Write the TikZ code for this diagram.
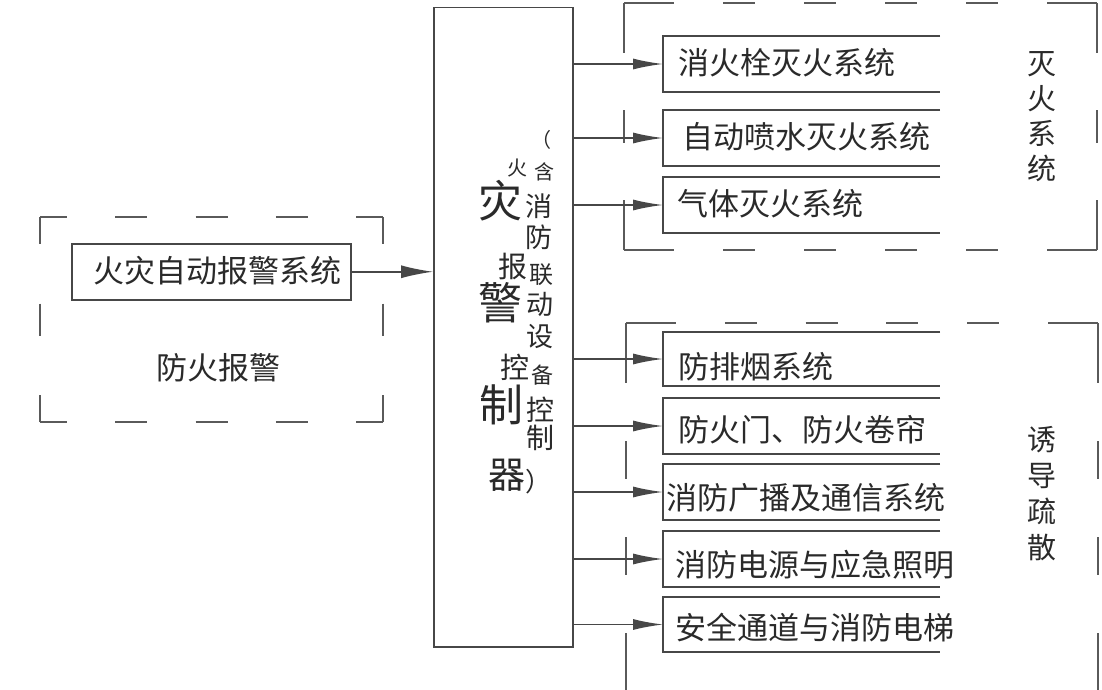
\documentclass[tikz,border=0pt]{standalone}
\usepackage{fontspec}
\newfontfamily\cjk{Noto Sans CJK SC}
\usetikzlibrary{arrows.meta,calc}
\definecolor{lncol}{HTML}{474747}
\definecolor{frcol}{HTML}{5A5A5A}
\definecolor{txtcol}{HTML}{2A2A2A}
% dashed side with solid corner pieces: x1 y1 x2 y2 corner dash gap
\newcommand\dashside[7]{%
  \pgfmathsetmacro\dsL{veclen((#3)-(#1),(#4)-(#2))}%
  \pgfmathsetmacro\dsM{\dsL-2*(#5)}%
  \pgfmathtruncatemacro\dsN{max(0,round((\dsM-(#7))/((#6)+(#7))))}%
  \pgfmathsetlengthmacro\dsG{(\dsM-\dsN*(#6))/(\dsN+1)}%
  \draw[frame] (#1,#2) -- ($(#1,#2)!#5pt!(#3,#4)$);
  \draw[frame] (#3,#4) -- ($(#3,#4)!#5pt!(#1,#2)$);
  \ifnum\dsN>0
    \draw[frame,dash pattern=on #6pt off \dsG,dash phase=#6pt]
      ($(#1,#2)!#5pt!(#3,#4)$) -- ($(#3,#4)!#5pt!(#1,#2)$);
  \fi}
\begin{document}
\begin{tikzpicture}[x=1pt,y=-1pt,
  frame/.style={draw=frcol,line width=1.5pt,line cap=square},
  ln/.style={draw=lncol,line width=1.5pt},
  conn/.style={draw=lncol,line width=1.5pt,-{Latex[length=30pt,width=11pt]}},
  sysbox/.style={inner sep=0pt,outer sep=0pt,minimum width=277pt,anchor=north west},
  txt/.style={font=\cjk\fontsize{31}{36}\selectfont,text=txtcol,inner sep=0pt,anchor=west},
  side/.style={font=\cjk\fontsize{29}{35}\selectfont,text=txtcol,inner sep=0pt,align=center},
  cc/.style={font=\cjk\fontsize{#1}{#1}\selectfont,text=txtcol,inner sep=0pt}
]
\useasboundingbox (0,0) rectangle (1102,690);
\fill[white] (0,0) rectangle (1102,690);
\clip (0,0) rectangle (1102,690);

% ---------- dashed group frames ----------
% left frame
\dashside{40}{217}{383}{217}{27}{32}{48}
\dashside{40}{422}{383}{422}{27}{32}{48}
\dashside{40}{217}{40}{422}{27}{32}{48}
\dashside{383}{217}{383}{422}{27}{32}{48}
% top right frame
\dashside{624}{3}{1097}{3}{50}{32}{48}
\dashside{624}{250}{1097}{250}{50}{32}{48}
\dashside{624}{3}{624}{250}{50}{32}{48}
\dashside{1097}{3}{1097}{250}{50}{32}{48}
% lower right frame
\dashside{626}{323}{1098}{323}{50}{32}{48}
\dashside{626}{693}{1098}{693}{50}{32}{48}
\dashside{626}{323}{626}{693}{60}{38}{56}
\dashside{1098}{323}{1098}{693}{60}{38}{56}

% ---------- left system ----------
\node[ln,inner sep=0pt,minimum width=279pt,minimum height=56pt,anchor=north west] (alarm) at (71,243) {};
\node[txt] (talarm) at (93,271) {火灾自动报警系统};
\node[txt,anchor=center] (lfire) at (218,368) {防火报警};

% ---------- controller ----------
\node[ln,inner sep=0pt,minimum width=139pt,minimum height=639pt,anchor=north west] (ctrl) at (433,7) {};
\node[cc=20] (k1) at (541,140) {（};
\node[cc=20] (k2) at (517,168) {火};
\node[cc=20] (k3) at (544,172) {含};
\node[cc=44] (k4) at (500,201) {灾};
\node[cc=27] (k5) at (539,206) {消};
\node[cc=27] (k6) at (539,237) {防};
\node[cc=29] (k7) at (513,267) {报};
\node[cc=24] (k8) at (541,275) {联};
\node[cc=44] (k9) at (500,303) {警};
\node[cc=27] (k10) at (540,304) {动};
\node[cc=27] (k11) at (540,337) {设};
\node[cc=29] (k12) at (515,367) {控};
\node[cc=22] (k13) at (542,375) {备};
\node[cc=44] (k14) at (501,405) {制};
\node[cc=28] (k15) at (540,410) {控};
\node[cc=28] (k16) at (540,438) {制};
\node[cc=37] (k17) at (507,475) {器};
\node[cc=26] (k18) at (538,482) {）};

% ---------- right systems ----------
\node[sysbox,minimum height=56pt] (b1) at (663,36) {};
\node[sysbox,minimum height=56pt] (b2) at (663,110) {};
\node[sysbox,minimum height=56pt] (b3) at (663,177) {};
\node[sysbox,minimum height=54pt] (b4) at (663,332) {};
\node[sysbox,minimum height=56pt] (b5) at (663,398) {};
\node[sysbox,minimum height=56pt] (b6) at (663,464) {};
\node[sysbox,minimum height=56pt] (b7) at (663,531) {};
\node[sysbox,minimum height=55pt] (b8) at (663,597) {};
\foreach \b in {b1,b2,b3,b4,b5,b6,b7,b8}{
  \draw[ln] (\b.north east) -- (\b.north west) -- (\b.south west) -- (\b.south east);
}
\node[txt] (t1) at (678,63) {消火栓灭火系统};
\node[txt] (t2) at (682,137) {自动喷水灭火系统};
\node[txt] (t3) at (677,204) {气体灭火系统};
\node[txt] (t4) at (678,367) {防排烟系统};
\node[txt] (t5) at (678,430) {防火门、防火卷帘};
\node[txt] (t6) at (666,498) {消防广播及通信系统};
\node[txt] (t7) at (675,565) {消防电源与应急照明};
\node[txt] (t8) at (675,628) {安全通道与消防电梯};

\node[side] (g1) at (1042,117) {灭\\火\\系\\统};
\node[side,font=\cjk\fontsize{29}{36}\selectfont] (g2) at (1042,494) {诱\\导\\疏\\散};

% ---------- connectors ----------
\draw[conn,-{Latex[length=32pt,width=13pt]}] (alarm.east) -- (alarm.east -| ctrl.west);
\foreach \b in {b1,b2,b3,b4,b5,b6,b7,b8}{
  \draw[conn] (ctrl.east |- \b.west) -- (\b.west);
}
\end{tikzpicture}
\end{document}
